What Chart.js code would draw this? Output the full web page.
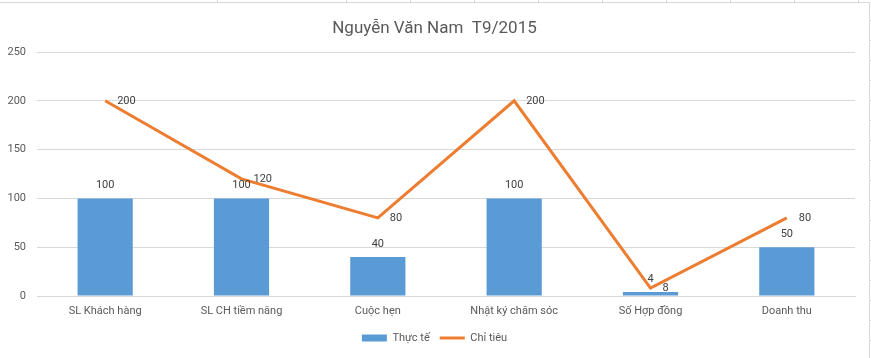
<!DOCTYPE html>
<html>
<head>
<meta charset="utf-8">
<script src="https://cdn.jsdelivr.net/npm/chart.js@4"></script>
<style>
  html, body { margin: 0; padding: 0; background: #ffffff; }
  #wrap { position: relative; width: 871px; height: 358px; overflow: hidden; background: #ffffff; }
  .vl { position: absolute; top: 0; width: 1px; height: 3px; background: #d4d4d4; }
  .hl { position: absolute; left: 870px; width: 1px; height: 1px; background: #d4d4d4; }
  #topline { position: absolute; left: 0; top: 2px; width: 870px; height: 1px; background: #d9d9d9; }
  #rightline { position: absolute; left: 869px; top: 2px; width: 1px; height: 356px; background: #d9d9d9; }
  #chartbox { position: absolute; left: 0; top: 0; width: 871px; height: 358px; }
</style>
</head>
<body>
<div id="wrap">
  <div id="chartbox"><canvas id="c" width="871" height="358"></canvas></div>
  <div id="topline"></div>
  <div id="rightline"></div>
</div>
<script>
const categories = ["SL Khách hàng", "SL CH tiềm năng", "Cuộc hẹn", "Nhật ký chăm sóc", "Số Hợp đồng", "Doanh thu"];
const thucTe = [100, 100, 40, 100, 4, 50];
const chiTieu = [200, 120, 80, 200, 8, 80];
const yTicks = [0, 50, 100, 150, 200, 250];
const seriesNames = ["Thực tế", "Chỉ tiêu"];
const chartTitle = "Nguyễn Văn Nam  T9/2015";

// spreadsheet cell lines outside the chart frame (decoration)
const wrap = document.getElementById('wrap');
[217, 346, 410, 474, 538, 602, 666, 730, 794, 858].forEach(x => {
  const d = document.createElement('div'); d.className = 'vl'; d.style.left = x + 'px'; wrap.appendChild(d);
});
for (let y = 20; y < 358; y += 20) {
  const d = document.createElement('div'); d.className = 'hl'; d.style.top = y + 'px'; wrap.appendChild(d);
}

const FONT = "Roboto, 'Open Sans', sans-serif";

const dataLabels = {
  id: 'dataLabels',
  afterDatasetsDraw(chart) {
    const ctx = chart.ctx;
    ctx.save();
    ctx.font = "11px " + FONT;
    ctx.fillStyle = '#404040';
    ctx.textBaseline = 'middle';
    chart.data.datasets.forEach((ds, di) => {
      const meta = chart.getDatasetMeta(di);
      meta.data.forEach((el, i) => {
        const v = ds.data[i];
        if (ds.type === 'line') {
          ctx.textAlign = 'left';
          ctx.fillText(String(v), el.x + 12, el.y + 0.5);
        } else {
          ctx.textAlign = 'center';
          ctx.fillText(String(v), el.x, el.y - 13);
        }
      });
    });
    ctx.restore();
  }
};

// centre title and legend on the whole chart frame (as the spreadsheet does)
const centreBlocks = {
  id: 'centreBlocks',
  afterLayout(chart) {
    const shift = 7;
    [chart.titleBlock, chart.legend].forEach(b => {
      if (b) { b.left += shift; b.right += shift; }
    });
  }
};

new Chart(document.getElementById('c'), {
  type: 'bar',
  data: {
    labels: categories,
    datasets: [
      {
        type: 'bar',
        label: seriesNames[0],
        data: thucTe,
        backgroundColor: '#5B9BD5',
        borderWidth: 0,
        barPercentage: 0.405,
        categoryPercentage: 1.0,
        order: 2
      },
      {
        type: 'line',
        label: seriesNames[1],
        data: chiTieu,
        borderColor: '#ED7D31',
        backgroundColor: '#ED7D31',
        borderWidth: 3,
        pointRadius: 0,
        pointHoverRadius: 0,
        tension: 0,
        fill: false,
        order: 1
      }
    ]
  },
  options: {
    responsive: false,
    animation: false,
    devicePixelRatio: 1,
    layout: { padding: { left: 0, right: 16, top: 0, bottom: 4.5 } },
    plugins: {
      title: {
        display: true,
        text: chartTitle,
        color: '#595959',
        font: { family: FONT, size: 17, weight: 'normal', lineHeight: 1.2 },
        padding: { top: 19, bottom: 12.6 }
      },
      legend: {
        display: true,
        position: 'bottom',
        labels: {
          usePointStyle: true,
          pointStyleWidth: 25,
          boxHeight: 7,
          color: '#595959',
          font: { family: FONT, size: 11 },
          padding: 10,
          generateLabels(chart) {
            return chart.data.datasets.map((ds, i) => ({
              text: ds.label,
              fillStyle: ds.backgroundColor,
              strokeStyle: ds.type === 'line' ? ds.borderColor : ds.backgroundColor,
              lineWidth: ds.type === 'line' ? 3 : 0,
              pointStyle: ds.type === 'line' ? 'line' : 'rect',
              fontColor: '#595959',
              datasetIndex: i,
              hidden: false
            }));
          }
        }
      },
      tooltip: { enabled: false }
    },
    scales: {
      x: {
        grid: { display: false, drawTicks: false },
        border: { display: true, color: '#d9d9d9', width: 1 },
        ticks: { color: '#595959', font: { family: FONT, size: 11 }, padding: 9, maxRotation: 0, autoSkip: false },
        afterFit(scale) { scale.height = 26.5; }
      },
      y: {
        min: 0,
        max: 250,
        afterBuildTicks(scale) { scale.ticks = yTicks.map(v => ({ value: v })); },
        grid: { color: '#d9d9d9', drawTicks: false, lineWidth: 1 },
        border: { display: false },
        ticks: { color: '#595959', font: { family: FONT, size: 11 }, padding: 11 },
        afterFit(scale) { scale.width = 37; }
      }
    }
  },
  plugins: [dataLabels, centreBlocks]
});
</script>
</body>
</html>
